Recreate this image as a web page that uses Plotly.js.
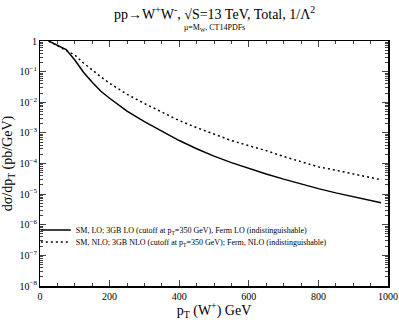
<!DOCTYPE html>
<html>
<head>
<meta charset="utf-8">
<script src="https://cdn.plot.ly/plotly-3.0.1.min.js"></script>
<style>html,body{margin:0;padding:0;background:#fff}#chart{width:399px;height:320px}</style>
</head>
<body>
<div id="chart"></div>
<script>
const pT = [25, 50, 75, 100, 125, 150, 175, 200, 250, 300, 350, 400, 450, 500, 550, 600, 650, 700, 750, 800, 850, 900, 950, 980];
const loValues = [1.0, 0.724, 0.525, 0.240, 0.0955, 0.0447, 0.0229, 0.0135, 5.13e-3, 2.34e-3, 1.12e-3, 5.62e-4, 3.02e-4, 1.74e-4, 1.07e-4, 6.92e-5, 4.57e-5, 3.09e-5, 2.14e-5, 1.51e-5, 1.10e-5, 8.13e-6, 6.17e-6, 5.25e-6];
const nloValues = [1.0, 0.708, 0.501, 0.347, 0.191, 0.112, 0.0676, 0.0417, 0.0182, 9.12e-3, 4.68e-3, 2.51e-3, 1.48e-3, 9.12e-4, 5.62e-4, 3.80e-4, 2.63e-4, 1.70e-4, 1.12e-4, 7.76e-5, 6.03e-5, 4.57e-5, 3.47e-5, 2.95e-5];
const loName = "SM, LO; 3GB LO (cutoff at p<sub>T</sub>=350 GeV), Ferm LO (indistinguishable)";
const nloName = "SM, NLO; 3GB NLO (cutoff at p<sub>T</sub>=350 GeV); Ferm, NLO (indistinguishable)";
const xTickVals = [0, 200, 400, 600, 800, 1000];

const serif = "'Liberation Serif', 'Times New Roman', serif";
const traces = [
  {x: pT, y: loValues, name: loName, mode: 'lines', legend: 'legend', line: {color: '#000', width: 1.5}},
  {x: pT, y: nloValues, name: nloName, mode: 'lines', legend: 'legend2', line: {color: '#000', width: 1.5, dash: '2px,3px'}}
];
const legendBase = {xanchor: 'left', yanchor: 'middle', bgcolor: 'rgba(0,0,0,0)',
  font: {family: serif, size: 8}, itemwidth: 30};
const layout = {
  width: 399, height: 320,
  margin: {l: 40, r: 11, t: 41, b: 34},
  paper_bgcolor: '#fff', plot_bgcolor: '#fff',
  font: {family: serif, color: '#000'},
  showlegend: true,
  legend: Object.assign({x: -0.012, y: 0.229}, legendBase),
  legend2: Object.assign({x: -0.012, y: 0.180}, legendBase),
  xaxis: {
    range: [0, 1000], tickvals: xTickVals, ticks: 'inside', ticklen: 6, tickwidth: 1,
    showline: true, linecolor: '#000', linewidth: 1.5, mirror: 'ticks', showgrid: false, zeroline: false,
    tickfont: {family: serif, size: 10},
    minor: {dtick: 50, ticks: 'inside', ticklen: 3, tickwidth: 1, showgrid: false},
    title: {text: 'p<sub>T</sub> (W<sup>+</sup>) GeV', font: {family: serif, size: 14}, standoff: 6}
  },
  yaxis: {
    type: 'log', range: [-8, 0], dtick: 1, exponentformat: 'power', ticks: 'inside', ticklen: 6, tickwidth: 1,
    showline: true, linecolor: '#000', linewidth: 1.5, mirror: 'ticks', showgrid: false, zeroline: false,
    tickfont: {family: serif, size: 8},
    minor: {dtick: 'D1', ticks: 'inside', ticklen: 3, tickwidth: 1, showgrid: false},
    title: {text: 'dσ/dp<sub>T</sub> (pb/GeV)', font: {family: serif, size: 14}, standoff: 4}
  },
  annotations: [
    {text: 'pp→W<sup>+</sup>W<sup>-</sup>, √S=13 TeV, Total, 1/Λ<sup>2</sup>', xref: 'paper', yref: 'paper',
     x: 0.5, y: 1, yshift: 28, xanchor: 'center', yanchor: 'middle', showarrow: false, font: {family: serif, size: 14}},
    {text: 'μ=M<sub>W</sub>, CT14PDFs', xref: 'paper', yref: 'paper',
     x: 0.5, y: 1, yshift: 13, xanchor: 'center', yanchor: 'middle', showarrow: false, font: {family: serif, size: 8}}
  ]
};
Plotly.newPlot('chart', traces, layout, {displayModeBar: false, staticPlot: true});
</script>
</body>
</html>
